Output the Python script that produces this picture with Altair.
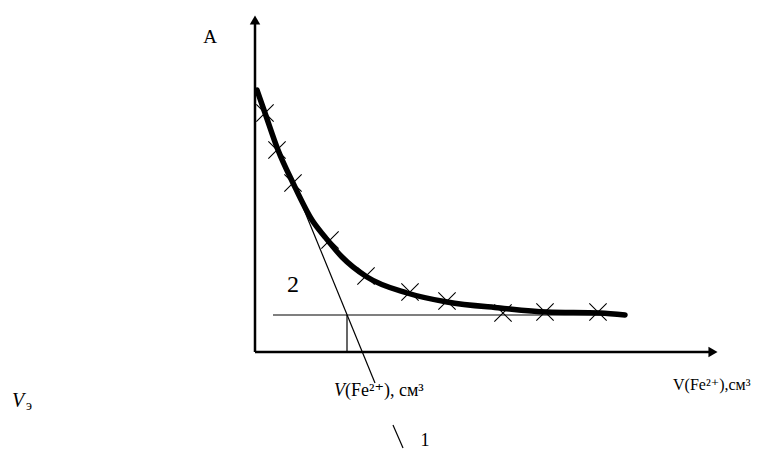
import altair as alt
import pandas as pd

# Schematic units (V along x, A along y)
curve_v = [0.2, 1.0, 2.3, 3.8, 5.7, 7.0, 8.7, 11.2, 15.2, 19.2, 24.5, 29.2, 34.5, 37.0]
curve_a = [26.2, 23.9, 20.2, 16.9, 13.2, 11.5, 9.5, 7.5, 5.9, 5.0, 4.4, 4.0, 3.9, 3.7]

cross_v = [1.0, 2.2, 3.8, 7.5, 11.1, 15.5, 19.2, 24.8, 29.0, 34.3]
cross_a = [23.9, 20.2, 16.9, 11.2, 7.6, 6.0, 5.1, 3.9, 4.0, 4.0]

# thin construction lines: tangent (1, in two pieces), level line (2), drop line
seg_x1 = [0.0, 13.8, 1.8, 9.2]
seg_y1 = [26.2, -7.3, 3.7, 3.7]
seg_x2 = [12.0, 14.8, 37.0, 9.2]
seg_y2 = [-3.1, -9.6, 3.7, 0.0]

# axes
axis_x1 = [0.0, 0.0]
axis_y1 = [0.0, 0.0]
axis_x2 = [0.0, 45.6]
axis_y2 = [33.0, 0.0]
arrow_x = [0.0, 45.8]
arrow_y = [33.2, 0.0]
arrow_shape = ["triangle-up", "triangle-right"]

XS = alt.Scale(domain=[-24.7, 49.6], nice=False, zero=False)
YS = alt.Scale(domain=[-10, 34.4], nice=False, zero=False)
FONT = "Times New Roman, Liberation Serif, DejaVu Serif, serif"

def X(f="x"):
    return alt.X(f, type="quantitative", scale=XS, axis=None)

def Y(f="y"):
    return alt.Y(f, type="quantitative", scale=YS, axis=None)

curve = alt.Chart(pd.DataFrame({"x": curve_v, "y": curve_a})).mark_line(
    color="black", strokeWidth=5.5, interpolate="monotone", strokeCap="round"
).encode(x=X(), y=Y(), order="x:Q")

crosses = alt.Chart(pd.DataFrame({"x": cross_v, "y": cross_a})).mark_point(
    shape="M-1,-1L1,1M-1,1L1,-1", filled=False, color="black", strokeWidth=1.1, size=300, opacity=1
).encode(x=X(), y=Y())

segs = alt.Chart(pd.DataFrame({"x": seg_x1, "y": seg_y1, "x2": seg_x2, "y2": seg_y2})).mark_rule(
    color="black", strokeWidth=1.2
).encode(x=X(), y=Y(), x2="x2:Q", y2="y2:Q")

axes = alt.Chart(pd.DataFrame({"x": axis_x1, "y": axis_y1, "x2": axis_x2, "y2": axis_y2})).mark_rule(
    color="black", strokeWidth=2.5
).encode(x=X(), y=Y(), x2="x2:Q", y2="y2:Q")

arrows = alt.Chart(pd.DataFrame({"x": arrow_x, "y": arrow_y, "s": arrow_shape})).mark_point(
    filled=True, color="black", size=110, opacity=1
).encode(x=X(), y=Y(), shape=alt.Shape("s:N", scale=None, legend=None))

# labels
lab_text = ["A", "2", "(Fe²⁺), см³", "V(Fe²⁺),см³", "э", "1"]
lab_x = [-4.5, 3.8, 9.0, 41.8, -22.9, 17.0]
lab_y = [30.9, 6.0, -4.4, -3.8, -5.8, -9.4]
lab_size = [19, 24, 18, 16, 14, 18]
lab_align = ["center", "center", "left", "left", "left", "center"]

def lab(i, **kw):
    return alt.Chart(pd.DataFrame({"x": [lab_x[i]], "y": [lab_y[i]], "t": [lab_text[i]]})).mark_text(
        font=FONT, fontSize=lab_size[i], align=lab_align[i], baseline="alphabetic", color="black", **kw
    ).encode(x=X(), y=Y(), text="t:N")

ital_text = ["V", "V"]
ital_x = [9.0, -24.3]
ital_y = [-4.4, -5.5]
ital_size = [18, 20]
ital_align = ["right", "left"]

def ital(i):
    return alt.Chart(pd.DataFrame({"x": [ital_x[i]], "y": [ital_y[i]], "t": [ital_text[i]]})).mark_text(
        font=FONT, fontSize=ital_size[i], fontStyle="italic", align=ital_align[i], baseline="alphabetic", color="black"
    ).encode(x=X(), y=Y(), text="t:N")

chart = alt.layer(
    segs, axes, arrows, curve, crosses,
    *[lab(i) for i in range(len(lab_text))],
    *[ital(i) for i in range(len(ital_text))],
).properties(
    width=743, height=444, padding=0, autosize=alt.AutoSizeParams(type="none"), background="white"
).configure_view(stroke=None)

chart.save("out.html", embed_options={"renderer": "svg", "actions": False})
